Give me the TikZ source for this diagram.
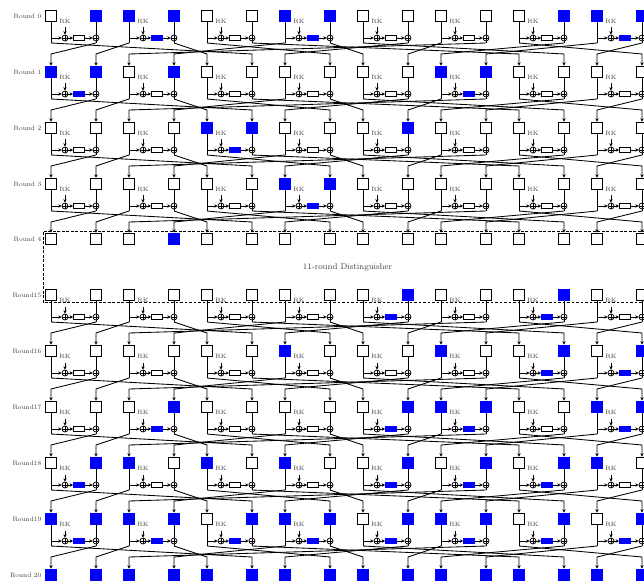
\documentclass[tikz,border=0pt]{standalone}
\usetikzlibrary{arrows.meta}
\begin{document}
\begin{tikzpicture}
[x=1pt,y=-1pt,
 wire/.style={line width=.85pt},
 arr/.style={wire,-{Stealth[length=3.4pt,width=3.4pt]}},
 cell0/.style={draw=black,fill=white,line width=.9pt,minimum size=11.8pt,inner sep=0pt},
 cell1/.style={draw=blue,fill=blue,line width=.9pt,minimum size=11.8pt,inner sep=0pt},
 fbox0/.style={draw=black,fill=white,line width=.8pt,minimum width=11pt,minimum height=5.6pt,inner sep=0pt},
 fbox1/.style={draw=blue,fill=blue,line width=.8pt,minimum width=11pt,minimum height=5.6pt,inner sep=0pt},
 xorgate/.style={circle,draw=black,line width=.75pt,inner sep=0pt,minimum size=6pt,
   path picture={\draw[line width=.6pt] (path picture bounding box.north)--(path picture bounding box.south)
     (path picture bounding box.west)--(path picture bounding box.east);}},
 roundlab/.style={anchor=east,inner sep=0pt,text=black!75,font=\fontsize{6.5}{8}\selectfont},
 keylab/.style={inner sep=0pt,text=black!75,font=\fontsize{6.2}{7}\selectfont}]
\useasboundingbox (0,0) rectangle (644,585);
% cells of every round
\foreach \r/\y/\lab/\state in {
 0/16/Round 0/{0,1,1,1,0,0,1,1,0,0,0,0,0,1,1,1},
 1/72/Round 1/{1,1,0,1,0,0,0,0,0,0,1,1,0,0,0,0},
 2/128/Round 2/{0,0,0,0,1,1,0,0,0,1,0,0,0,0,0,0},
 3/184/Round 3/{0,0,0,0,0,0,1,1,0,0,0,0,0,0,0,0},
 4/239/Round 4/{0,0,0,1,0,0,0,0,0,0,0,0,0,0,0,0},
 15/295/Round15/{0,0,0,0,0,0,0,0,0,1,0,0,0,1,0,0},
 16/351/Round16/{0,0,0,0,0,0,1,0,0,0,1,0,0,1,0,1},
 17/407/Round17/{0,0,0,1,0,0,0,0,0,1,1,1,0,0,1,1},
 18/463/Round18/{0,1,1,0,1,0,1,0,0,1,0,1,0,1,1,0},
 19/519/Round19/{1,1,1,1,0,1,1,1,0,1,1,1,0,1,0,1},
 20/575/Round 20/{1,1,1,1,1,1,1,1,1,1,1,1,1,1,1,1}}{
  \node[roundlab] (l\r) at (41.5,\y) {\lab};
  \foreach \i/\x in {0/51,1/96,2/129,3/174,4/207,5/252,6/285,7/330,8/363,9/408,10/441,11/486,12/519,13/564,14/597,15/642}{
    \pgfmathtruncatemacro\v{{\state}[\i]}
    \node[cell\v] (s\r-\i) at (\x,\y) {};
    \coordinate (d\r-\i) at (\x,\y+27);
    \coordinate (b\r-\i) at (\x,\y+38);
  }
}
% round function of every pair
\foreach \r/\y/\rects in {
 0/16/{0,1,0,1,0,0,0,1},
 1/72/{1,0,0,0,0,1,0,0},
 2/128/{0,0,1,0,0,0,0,0},
 3/184/{0,0,0,1,0,0,0,0},
 15/295/{0,0,0,0,1,0,1,0},
 16/351/{0,0,0,0,0,0,1,1},
 17/407/{0,1,0,0,1,1,0,1},
 18/463/{1,0,0,0,1,1,1,0},
 19/519/{1,1,1,1,1,1,1,1}}{
  \foreach \k/\p/\q/\x in {0/0/1/51,1/2/3/129,2/4/5/207,3/6/7/285,4/8/9/363,5/10/11/441,6/12/13/519,7/14/15/597}{
    \pgfmathtruncatemacro\v{{\rects}[\k]}
    \node[xorgate] (x\r-\p) at (\x+14,\y+22) {};
    \node[fbox\v] (f\r-\p) at (\x+28,\y+22) {};
    \node[xorgate] (y\r-\p) at (\x+45,\y+22) {};
    \node[keylab] (k\r-\p) at (\x+14,\y+5) {RK};
    \coordinate (t\r-\p) at (\x+14,\y+11.5);
    \coordinate (j\r-\p) at (\x,\y+22);
    \draw[wire] (s\r-\p) -- (d\r-\p);
    \draw[wire] (s\r-\q) -- (y\r-\p) -- (d\r-\q);
    \draw[arr] (j\r-\p) -- (x\r-\p);
    \draw[arr] (t\r-\p) -- (x\r-\p);
    \draw[arr] (x\r-\p) -- (f\r-\p);
    \draw[arr] (f\r-\p) -- (y\r-\p);
  }
}
% permutation between rounds
\foreach \r/\n in {0/1,1/2,2/3,3/4,15/16,16/17,17/18,18/19,19/20}{
  \foreach \i/\j in {0/5,1/0,2/1,3/4,4/7,5/12,6/3,7/8,8/13,9/6,10/9,11/2,12/15,13/10,14/11,15/14}{
    \draw[arr] (d\r-\i) -- (b\r-\j) -- (s\n-\j);
  }
}
\draw[wire,dash pattern=on 2.6pt off 1.9pt] (645,231.5) -- (43,231.5) -- (43,302.5) -- (645,302.5);
\node[inner sep=0pt,text=black!75,font=\fontsize{8.4}{9}\selectfont] (dist) at (347.5,267) {11-round Distinguisher};
\end{tikzpicture}
\end{document}
